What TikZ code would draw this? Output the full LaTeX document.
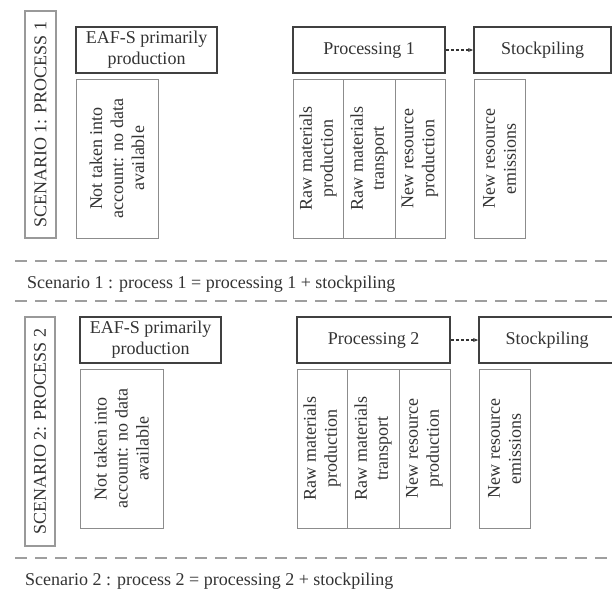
\documentclass[tikz,border=0pt]{standalone}
\usepackage{fontspec}
\setmainfont{Liberation Serif}
\usetikzlibrary{arrows.meta}
\begin{document}
\begin{tikzpicture}[x=1pt,y=-1pt,
  every node/.style={font=\fontsize{18}{21}\selectfont, text=black!80, inner sep=0pt, align=center},
  darkbox/.style={draw=black!75, line width=1.8pt},
  subbox/.style={draw=black!45, line width=1pt, rotate=90},
  labbox/.style={draw=black!40, line width=1.4pt, rotate=90},
  sepline/.style={draw=black!38, line width=2.2pt, dash pattern=on 12pt off 8pt},
  flow/.style={draw=black!80, line width=1.2pt, dash pattern=on 3pt off 2pt, -{Stealth[length=5pt,width=4pt]}}
]
\useasboundingbox (0,0) rectangle (612,590);
\clip (0,0) rectangle (612,590);
% Scenario 1
\node[labbox, minimum width=227pt, minimum height=31pt] (lab1) at (40.5,124.5) {SCENARIO 1: PROCESS 1};
\node[darkbox, minimum width=141pt, minimum height=46pt] (eaf1) at (146.5,50) {EAF-S primarily\\production};
\node[subbox, minimum width=159pt, minimum height=82pt] (nt1) at (117,158.5) {Not taken into\\account: no data\\available};
\node[darkbox, minimum width=152pt, minimum height=46pt] (proc1) at (369,50) {Processing 1};
\node[subbox, minimum width=159pt, minimum height=50pt] (rm1) at (318,158.5) {Raw materials\\production};
\node[subbox, minimum width=159pt, minimum height=52pt] (rt1) at (369,158.5) {Raw materials\\transport};
\node[subbox, minimum width=159pt, minimum height=50pt] (nr1) at (420,158.5) {New resource\\production};
\node[darkbox, minimum width=137pt, minimum height=46pt] (st1) at (542.5,50) {Stockpiling};
\node[subbox, minimum width=159pt, minimum height=51pt] (ne1) at (499.5,158.5) {New resource\\emissions};
\draw[flow] (proc1.east) -- (st1.west);
% separators and caption 1
\coordinate (s1a) at (15,261);
\coordinate (s1b) at (612,261);
\draw[sepline] (s1a) -- (s1b);
\node[anchor=base west] (cap1) at (27,288) {Scenario 1 : process 1 = processing 1 + stockpiling};
\coordinate (s2a) at (15,301);
\coordinate (s2b) at (612,301);
\draw[sepline] (s2a) -- (s2b);
% Scenario 2
\node[labbox, minimum width=229pt, minimum height=30pt] (lab2) at (40,431.5) {SCENARIO 2: PROCESS 2};
\node[darkbox, minimum width=141pt, minimum height=46pt] (eaf2) at (150.5,340) {EAF-S primarily\\production};
\node[subbox, minimum width=159pt, minimum height=83pt] (nt2) at (121.5,448.5) {Not taken into\\account: no data\\available};
\node[darkbox, minimum width=153pt, minimum height=46pt] (proc2) at (373.5,340) {Processing 2};
\node[subbox, minimum width=159pt, minimum height=50pt] (rm2) at (322,448.5) {Raw materials\\production};
\node[subbox, minimum width=159pt, minimum height=52pt] (rt2) at (373,448.5) {Raw materials\\transport};
\node[subbox, minimum width=159pt, minimum height=51pt] (nr2) at (424.5,448.5) {New resource\\production};
\node[darkbox, minimum width=136pt, minimum height=46pt] (st2) at (547,340) {Stockpiling};
\node[subbox, minimum width=159pt, minimum height=51pt] (ne2) at (504.5,448.5) {New resource\\emissions};
\draw[flow] (proc2.east) -- (st2.west);
% separator and caption 2
\coordinate (s3a) at (15,558);
\coordinate (s3b) at (612,558);
\draw[sepline] (s3a) -- (s3b);
\node[anchor=base west] (cap2) at (25,585) {Scenario 2 : process 2 = processing 2 + stockpiling};
\end{tikzpicture}
\end{document}
